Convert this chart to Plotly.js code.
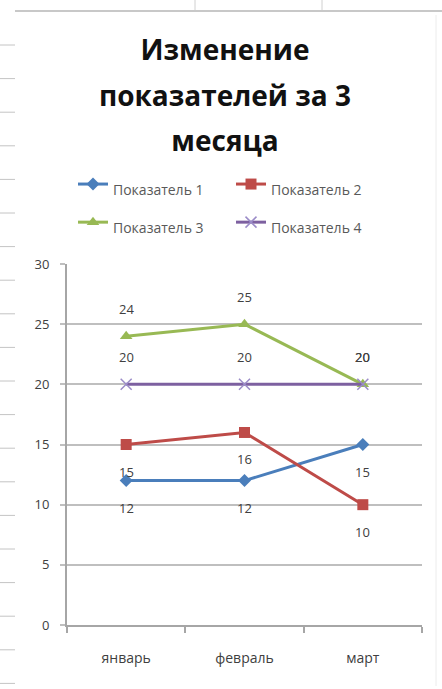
<!DOCTYPE html>
<html>
<head>
<meta charset="utf-8">
<script src="https://cdn.plot.ly/plotly-3.0.1.min.js"></script>
<style>html,body{margin:0;padding:0;background:#fff;}#chart{width:442px;height:689px;}</style>
</head>
<body>
<div id="chart"></div>
<script>
// ---- data ----
const categories = ['январь', 'февраль', 'март'];
const seriesNames = ['Показатель 1', 'Показатель 2', 'Показатель 3', 'Показатель 4'];
const pokazatel1 = [12, 12, 15];
const pokazatel2 = [15, 16, 10];
const pokazatel3 = [24, 25, 20];
const pokazatel4 = [20, 20, 20];
const yTicks = [0, 5, 10, 15, 20, 25, 30];
const titleLines = ['Изменение', 'показателей за 3', 'месяца'];

// ---- styles ----
const seriesValues = [pokazatel1, pokazatel2, pokazatel3, pokazatel4];
const colors = ['#4A7EBB', '#BE4B48', '#98B954', '#7D60A0'];
const markerColors = ['#4A7EBB', '#BE4B48', '#98B954', '#9B8CC8'];
const symbols = ['diamond', 'square', 'triangle-up', 'x-thin-open'];
const markerSizes = [10, 11, 11, 11];
const labelShift = [-27, -27, 27, 27];

const W = 442, H = 689;
const L = 67, R = 20, T = 264, B = 64;
const pw = W - L - R, ph = H - T - B;
const px = x => (x - L) / pw;
const py = y => (H - B - y) / ph;

const traces = seriesValues.map((vals, i) => ({
  type: 'scatter',
  mode: 'lines+markers',
  name: '<span style="font-size:14px">' + seriesNames[i] + '</span>',
  x: categories,
  y: vals,
  line: {color: colors[i], width: 3},
  marker: {symbol: symbols[i], size: markerSizes[i], color: markerColors[i],
           line: {color: markerColors[i], width: i === 3 ? 1.5 : 0}},
  hoverinfo: 'x+y'
}));

const annotations = [];
seriesValues.forEach((vals, i) => {
  vals.forEach((v, j) => {
    annotations.push({
      x: categories[j], y: v, xref: 'x', yref: 'y',
      text: String(v), showarrow: false, yshift: labelShift[i],
      font: {family: 'Open Sans, sans-serif', size: 13, color: '#404040'}
    });
  });
});

// spreadsheet background decorations
const shapes = [];
shapes.push({type: 'line', xref: 'paper', yref: 'paper', x0: px(15), x1: px(442), y0: py(11), y1: py(11),
             line: {color: '#c8c8c8', width: 2}});
[195, 322].forEach(xv => shapes.push({type: 'line', xref: 'paper', yref: 'paper', x0: px(xv), x1: px(xv), y0: py(0), y1: py(10),
             line: {color: '#d0d0d0', width: 1}}));
shapes.push({type: 'line', xref: 'paper', yref: 'paper', x0: px(436), x1: px(436), y0: py(15), y1: py(686),
             line: {color: '#ececec', width: 1}});
for (let yy = 45; yy < H; yy += 33.6) {
  shapes.push({type: 'line', xref: 'paper', yref: 'paper', x0: px(0), x1: px(15), y0: py(yy), y1: py(yy),
               line: {color: '#c4c4c4', width: 1}});
}

const layout = {
  width: W, height: H,
  margin: {l: L, r: R, t: T, b: B},
  paper_bgcolor: '#ffffff', plot_bgcolor: '#ffffff',
  title: {
    text: titleLines.map(s => '<span style="font-size:28px">' + s + '</span>').join('<br>'),
    font: {family: 'Open Sans, sans-serif', size: 35, color: '#111111', weight: 'bold'},
    x: 225 / W, xanchor: 'center', xref: 'container',
    y: 1 - 60 / H, yanchor: 'top', yref: 'container'
  },
  showlegend: true,
  legend: {
    orientation: 'h', x: px(73), xanchor: 'left', y: py(160), yanchor: 'top',
    entrywidth: 113, entrywidthmode: 'pixels',
    font: {family: 'Open Sans, sans-serif', size: 27, color: '#595959'},
    bgcolor: 'rgba(0,0,0,0)', itemwidth: 30
  },
  xaxis: {
    type: 'category', range: [-0.5, 2.5],
    showgrid: false, showline: true, linecolor: '#a6a6a6', linewidth: 2,
    ticks: 'outside', tickson: 'boundaries', ticklen: 6, tickcolor: '#a6a6a6', tickwidth: 2,
    ticklabelstandoff: 19,
    tickfont: {family: 'Open Sans, sans-serif', size: 14, color: '#404040'},
    zeroline: false, fixedrange: true
  },
  yaxis: {
    range: [0, 30], tickvals: yTicks, ticktext: yTicks.map(String),
    showgrid: true, gridcolor: '#bfbfbf', gridwidth: 2,
    showline: true, linecolor: '#a6a6a6', linewidth: 2,
    ticks: 'outside', ticklen: 5, tickcolor: '#bfbfbf', tickwidth: 2,
    ticklabelstandoff: 8,
    tickfont: {family: 'Open Sans, sans-serif', size: 13, color: '#404040'},
    zeroline: false, fixedrange: true
  },
  annotations: annotations,
  shapes: shapes
};

Plotly.newPlot('chart', traces, layout, {displayModeBar: false, staticPlot: true});
</script>
</body>
</html>
